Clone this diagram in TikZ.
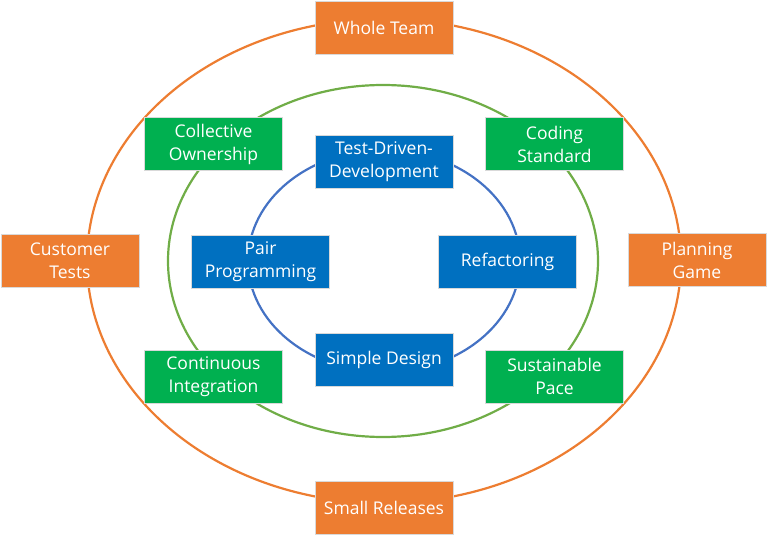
\documentclass[tikz,border=0pt]{standalone}
\usepackage{fontspec}
\setmainfont{Open Sans}
\definecolor{orbox}{HTML}{ED7D31}
\definecolor{grbox}{HTML}{00B050}
\definecolor{blbox}{HTML}{0070C0}
\definecolor{orline}{HTML}{ED7D31}
\definecolor{grline}{HTML}{70AD47}
\definecolor{blline}{HTML}{4472C4}
\begin{document}
\begin{tikzpicture}[x=1pt,y=-1pt,
  box/.style={rectangle, minimum width=138pt, minimum height=53pt, draw=white!85!black, line width=0.6pt,
    text=white, align=center, inner sep=0pt, font=\fontsize{17.5}{23}\selectfont},
  obox/.style={box, fill=orbox},
  gbox/.style={box, fill=grbox},
  bbox/.style={box, fill=blbox},
  ring/.style={line width=2.2pt}]
\useasboundingbox (0,0) rectangle (768,537);
% rings
\draw[ring, orline] (384,261) ellipse [x radius=297pt, y radius=242pt];
\draw[ring, grline] (383,261) ellipse [x radius=215pt, y radius=176pt];
\draw[ring, blline] (384,261) ellipse [x radius=136pt, y radius=111pt];
% outer
\node[obox] (whole) at (384,28) {Whole Team};
\node[obox] (cust) at (70,260.5) {Customer\\Tests};
\node[obox] (plan) at (697,260) {Planning\\Game};
\node[obox] (small) at (384,508) {Small Releases};
% middle
\node[gbox] (coll) at (213.5,144) {Collective\\Ownership};
\node[gbox] (coding) at (554.5,144) {Coding\\Standard};
\node[gbox] (cont) at (213.5,376.5) {Continuous\\Integration};
\node[gbox] (sust) at (554.5,376.5) {Sustainable\\Pace};
% inner
\node[bbox] (tdd) at (384,162) {Test-Driven-\\Development};
\node[bbox] (pair) at (260.5,261.5) {Pair\\Programming};
\node[bbox] (refac) at (507.5,261.5) {Refactoring};
\node[bbox] (simple) at (384,359.5) {Simple Design};
\end{tikzpicture}
\end{document}
